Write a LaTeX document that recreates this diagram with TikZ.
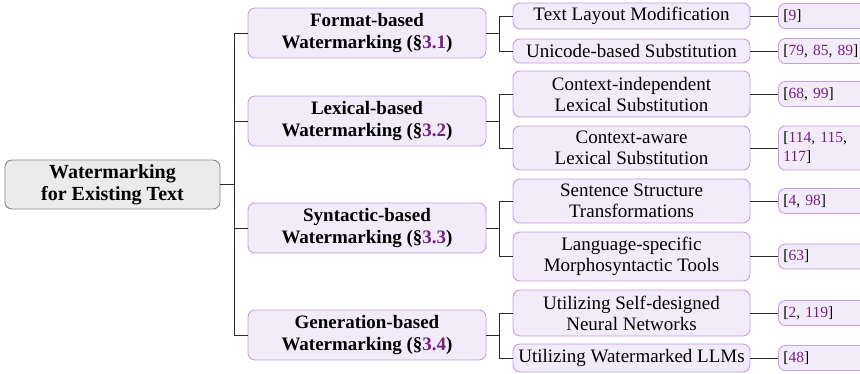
\documentclass[tikz,border=0pt]{standalone}
\usepackage{fontspec}
\setmainfont{Liberation Serif}
\definecolor{bordc}{HTML}{C49CE8}
\definecolor{fillc}{HTML}{F2ECFA}
\definecolor{rootfill}{HTML}{EBEBEB}
\definecolor{rootdraw}{HTML}{8A8A8A}
\definecolor{cpurple}{HTML}{74207E}
\definecolor{linec}{HTML}{2A2A2A}
\newcommand{\cp}[1]{\textcolor{cpurple}{#1}}
\tikzset{
  box/.style={draw=bordc, fill=fillc, rounded corners=7pt, line width=0.9pt, align=center, inner sep=0pt},
  rootbox/.style={box, draw=rootdraw, fill=rootfill, minimum width=215pt, minimum height=49pt, font=\bfseries\fontsize{20}{22}\selectfont},
  lone/.style={box, minimum width=238pt, minimum height=50pt, font=\bfseries\fontsize{19}{21.5}\selectfont},
  leaf/.style={box, minimum width=237pt, font=\fontsize{19}{21}\selectfont},
  citebox/.style={box, anchor=west, minimum width=120pt, minimum height=25pt, align=left, text width=110pt, inner xsep=5pt, font=\fontsize{15.5}{19}\selectfont},
  conn/.style={line width=1pt, draw=linec}
}
\begin{document}
\begin{tikzpicture}[x=1pt,y=-1pt]
\useasboundingbox (0,0) rectangle (860,373);
% root
\node[rootbox] (root) at (112.5,184.5) {Watermarking\\for Existing Text};
% level 1
\node[lone] (fmt) at (367,33) {Format-based\\Watermarking (§\cp{3.1})};
\node[lone] (lex) at (367,121) {Lexical-based\\Watermarking (§\cp{3.2})};
\node[lone] (syn) at (367,228) {Syntactic-based\\Watermarking (§\cp{3.3})};
\node[lone] (gen) at (367,335) {Generation-based\\Watermarking (§\cp{3.4})};
% leaves
\node[leaf, minimum height=26pt] (tl) at (631.5,16) {Text Layout Modification};
\node[leaf, minimum height=24pt] (uni) at (631.5,51) {Unicode-based Substitution};
\node[leaf, minimum height=46pt] (ci) at (631.5,94) {Context-independent\\Lexical Substitution};
\node[leaf, minimum height=44pt] (ca) at (631.5,148) {Context-aware\\Lexical Substitution};
\node[leaf, minimum height=44pt] (ss) at (631.5,201) {Sentence Structure\\Transformations};
\node[leaf, minimum height=49pt] (ls) at (631.5,256.5) {Language-specific\\Morphosyntactic Tools};
\node[leaf, minimum height=46pt] (usd) at (631.5,313) {Utilizing Self-designed\\Neural Networks};
\node[leaf, minimum height=28pt] (uwl) at (631.5,358) {Utilizing Watermarked LLMs};
% citations
\node[citebox] (c1) at (778,16) {[\cp{9}]};
\node[citebox] (c2) at (778,51) {[\cp{79}, \cp{85}, \cp{89}]};
\node[citebox] (c3) at (778,94) {[\cp{68}, \cp{99}]};
\node[citebox, minimum height=44pt] (c4) at (778,148) {[\cp{114}, \cp{115},\\\cp{117}]};
\node[citebox] (c5) at (778,201) {[\cp{4}, \cp{98}]};
\node[citebox] (c6) at (778,256.5) {[\cp{63}]};
\node[citebox] (c7) at (778,313) {[\cp{2}, \cp{119}]};
\node[citebox] (c8) at (778,358) {[\cp{48}]};
% root connectors
\coordinate (j0) at (234,184.5);
\draw[conn] (root.east) -- (j0);
\draw[conn] (fmt.west) -| (j0 |- gen.west) -- (gen.west);
\draw[conn] (j0 |- lex.west) -- (lex.west);
\draw[conn] (j0 |- syn.west) -- (syn.west);
% level-1 connectors
\coordinate (j1) at (499,0);
\foreach \p/\a/\b in {fmt/tl/uni, lex/ci/ca, syn/ss/ls, gen/usd/uwl}{
  \draw[conn] (\p.east) -- (j1 |- \p.east);
  \draw[conn] (\a.west) -| (j1 |- \b.west) -- (\b.west);
}
% leaf to citation
\foreach \a/\b in {tl/c1, uni/c2, ci/c3, ca/c4, ss/c5, ls/c6, usd/c7, uwl/c8}{
  \draw[conn] (\a.east) -- (\b.west);
}
\end{tikzpicture}
\end{document}
